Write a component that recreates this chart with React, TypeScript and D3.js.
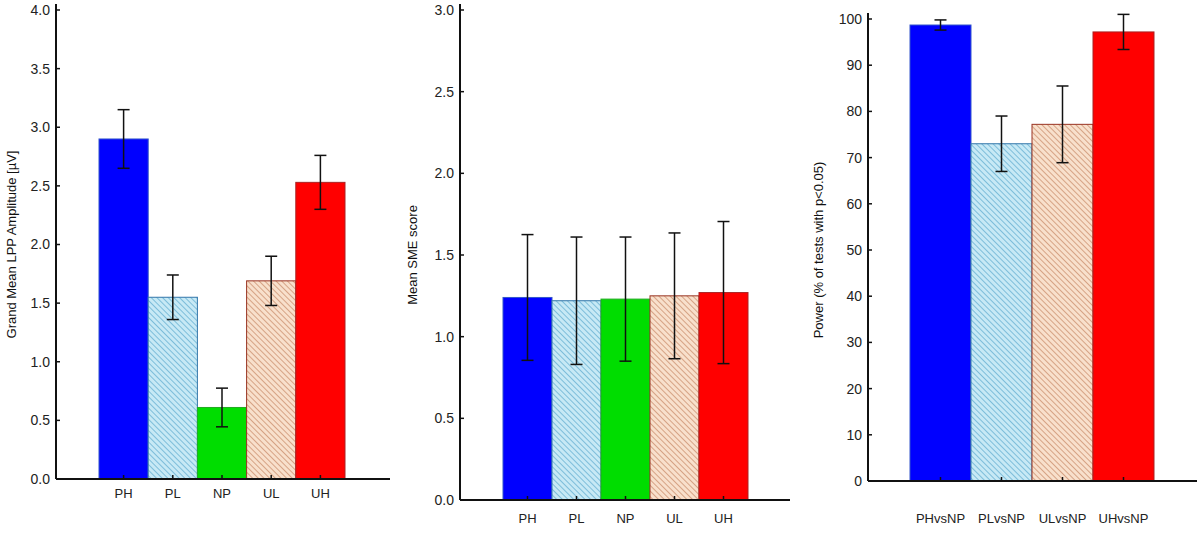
import React from 'react';
import * as d3 from 'd3';

const conds = ['PH', 'PL', 'NP', 'UL', 'UH'];
const lppMean = [2.9, 1.55, 0.61, 1.69, 2.53];
const lppErr = [0.25, 0.19, 0.165, 0.21, 0.23];
const smeMean = [1.24, 1.22, 1.23, 1.25, 1.27];
const smeErr = [0.385, 0.39, 0.38, 0.385, 0.435];
const pairs = ['PHvsNP', 'PLvsNP', 'ULvsNP', 'UHvsNP'];
const powMean = [98.7, 73, 77.2, 97.2];
const powErr = [1.1, 6, 8.3, 3.8];

const fillOf: Record<string, string> = {
  PH: '#0000ff', PL: 'url(#hatchBlue)', NP: '#00dd00', UL: 'url(#hatchTan)', UH: '#ff0000',
};
const strokeOf: Record<string, string> = {
  PH: '#3355cc', PL: '#3377aa', NP: '#22aa22', UL: '#993322', UH: '#aa2222',
};

interface PanelProps {
  cats: string[];
  keys: string[];
  mean: number[];
  err: number[];
  yMax: number;
  ticks: number[];
  fmt: (v: number) => string;
  axisX: number; axisEnd: number; barL: number; barR: number;
  yTop: number; yBot: number; labelY: number; title: string; titleX: number;
}

const Panel = (p: PanelProps) => {
  const y = d3.scaleLinear().domain([0, p.yMax]).range([p.yBot, p.yTop]);
  const x = d3.scaleBand().domain(p.cats).range([p.barL, p.barR]).padding(0);
  const bw = x.bandwidth();
  const top = Math.max(2, y(p.yMax) - 6);
  return (
    <g>
      {p.cats.map((c, i) => {
        const k = p.keys[i];
        const x0 = x(c)!;
        const cx = x0 + bw / 2;
        const lo = y(p.mean[i] - p.err[i]);
        const hi = y(p.mean[i] + p.err[i]);
        return (
          <g key={c}>
            <rect x={x0} y={y(p.mean[i])} width={bw} height={p.yBot - y(p.mean[i])}
              fill={fillOf[k]} stroke={strokeOf[k]} strokeWidth={1} />
            <line x1={cx} x2={cx} y1={lo} y2={hi} stroke="#111" strokeWidth={1.5} />
            <line x1={cx - 6} x2={cx + 6} y1={lo} y2={lo} stroke="#111" strokeWidth={1.5} />
            <line x1={cx - 6} x2={cx + 6} y1={hi} y2={hi} stroke="#111" strokeWidth={1.5} />
            <line x1={cx} x2={cx} y1={p.yBot} y2={p.yBot - 4} stroke="#111" strokeWidth={1.5} />
            <text x={cx} y={p.labelY} textAnchor="middle" fontSize={13} fill="#222">{c}</text>
          </g>
        );
      })}
      <line x1={p.axisX} x2={p.axisX} y1={top} y2={p.yBot} stroke="#111" strokeWidth={2} />
      <line x1={p.axisX} x2={p.axisEnd} y1={p.yBot} y2={p.yBot} stroke="#111" strokeWidth={2} />
      {p.ticks.map((t) => (
        <g key={t}>
          <line x1={p.axisX} x2={p.axisX + 4} y1={y(t)} y2={y(t)} stroke="#111" strokeWidth={1.5} />
          <text x={p.axisX - 6} y={y(t)} dy="0.35em" textAnchor="end" fontSize={14} fill="#222">{p.fmt(t)}</text>
        </g>
      ))}
      <text transform={`translate(${p.titleX},${(p.yTop + p.yBot) / 2}) rotate(-90)`} dy="0.35em" textAnchor="middle" fontSize={13} fill="#111">{p.title}</text>
    </g>
  );
};

const App = () => (
  <svg width={1200} height={546} style={{ fontFamily: 'Liberation Sans, Arial, sans-serif', display: 'block', position: 'absolute', left: 0, top: 0 }}>
    <defs>
      <pattern id="hatchBlue" width={4} height={4} patternUnits="userSpaceOnUse" patternTransform="rotate(-45)">
        <rect width={4} height={4} fill="#c7e9f5" />
        <line x1={0} y1={0} x2={0} y2={4} stroke="#4aa0c8" strokeWidth={1.2} />
      </pattern>
      <pattern id="hatchTan" width={4} height={4} patternUnits="userSpaceOnUse" patternTransform="rotate(-45)">
        <rect width={4} height={4} fill="#f8e0cc" />
        <line x1={0} y1={0} x2={0} y2={4} stroke="#c07a55" strokeWidth={1.2} />
      </pattern>
    </defs>
    <Panel cats={conds} keys={conds} mean={lppMean} err={lppErr} yMax={4}
      ticks={d3.range(0, 4.01, 0.5)} fmt={d3.format('.1f')}
      axisX={56} axisEnd={390} barL={99} barR={345} yTop={10} yBot={479} labelY={498}
      title="Grand Mean LPP Amplitude [µV]" titleX={11} />
    <Panel cats={conds} keys={conds} mean={smeMean} err={smeErr} yMax={3}
      ticks={d3.range(0, 3.01, 0.5)} fmt={d3.format('.1f')}
      axisX={460} axisEnd={790} barL={503} barR={748} yTop={10} yBot={500} labelY={523}
      title="Mean SME score" titleX={412} />
    <Panel cats={pairs} keys={['PH', 'PL', 'UL', 'UH']} mean={powMean} err={powErr} yMax={100}
      ticks={d3.range(0, 101, 10)} fmt={d3.format('d')}
      axisX={868} axisEnd={1197} barL={910} barR={1154} yTop={19} yBot={481} labelY={523}
      title="Power (% of tests with p<0.05)" titleX={818} />
  </svg>
);

export default App;
